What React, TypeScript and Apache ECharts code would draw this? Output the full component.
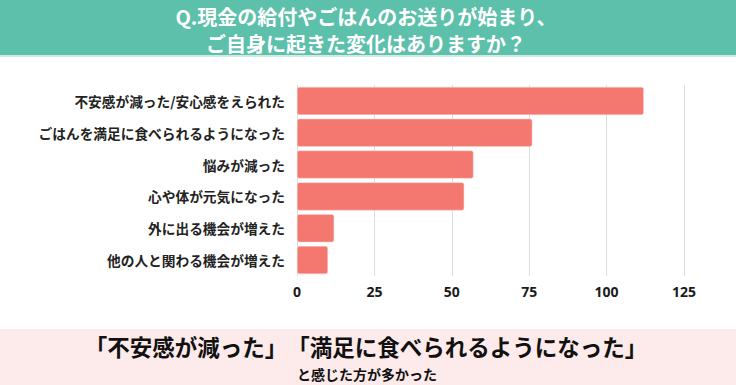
import React, { useEffect, useRef } from "react";
import * as echarts from "echarts";

const categories = [
  "不安感が減った/安心感をえられた",
  "ごはんを満足に食べられるようになった",
  "悩みが減った",
  "心や体が元気になった",
  "外に出る機会が増えた",
  "他の人と関わる機会が増えた",
];
const values = [112, 76, 57, 54, 12, 10];
const titleLines = ["Q.現金の給付やごはんのお送りが始まり、", "ご自身に起きた変化はありますか？"];
const footerMain = "「不安感が減った」　「満足に食べられるようになった」";
const footerSub = "と感じた方が多かった";

const JP = "'Noto Sans CJK JP', 'Noto Sans', sans-serif";

export default function App() {
  const ref = useRef<HTMLDivElement>(null);
  useEffect(() => {
    if (!ref.current) return;
    const chart = echarts.init(ref.current, null, { renderer: "svg" });
    chart.setOption({
      animation: false,
      backgroundColor: "#ffffff",
      grid: { left: 297, right: 52, top: 85, bottom: 109, containLabel: false },
      xAxis: {
        type: "value",
        min: 0,
        max: 125,
        interval: 25,
        axisLine: { show: false },
        axisTick: { show: false },
        splitLine: { show: true, lineStyle: { color: "#dddddd", width: 1 } },
        axisLabel: {
          color: "#1a1a1a",
          fontSize: 14,
          fontWeight: "bold",
          fontFamily: "'Open Sans', sans-serif",
          margin: 8,
        },
      },
      yAxis: {
        type: "category",
        data: categories,
        inverse: true,
        axisLine: { show: false },
        axisTick: { show: false },
        splitLine: { show: false },
        axisLabel: {
          color: "#222222",
          fontSize: 13.7,
          fontWeight: "bold",
          fontFamily: JP,
          margin: 12,
        },
      },
      series: [
        {
          type: "bar",
          data: values,
          barCategoryGap: "12%",
          itemStyle: {
            color: "#f47870",
            borderRadius: 2,
            borderColor: "#fbd3cf",
            borderWidth: 0.5,
          },
        },
      ],
      graphic: [
        { type: "rect", left: 0, top: 0, shape: { x: 0, y: 0, width: 736, height: 55 }, style: { fill: "#5cc0aa" }, silent: true },
        { type: "rect", left: 0, top: 55, shape: { x: 0, y: 0, width: 736, height: 2 }, style: { fill: "#cfece4" }, silent: true },
        {
          type: "text",
          x: 366,
          y: 16,
          style: { text: titleLines[0], fill: "#ffffff", font: `bold 20px ${JP}`, align: "center", verticalAlign: "middle" },
        },
        {
          type: "text",
          x: 366,
          y: 43,
          style: { text: titleLines[1], fill: "#ffffff", font: `bold 20px ${JP}`, align: "center", verticalAlign: "middle" },
        },
        { type: "rect", left: 0, top: 329, shape: { x: 0, y: 0, width: 736, height: 56 }, style: { fill: "#fdeaea" }, silent: true },
        {
          type: "text",
          x: 366,
          y: 346,
          style: { text: footerMain, fill: "#111111", font: `bold 22.5px ${JP}`, align: "center", verticalAlign: "middle" },
        },
        {
          type: "text",
          x: 367,
          y: 374,
          style: { text: footerSub, fill: "#111111", font: `bold 14px ${JP}`, align: "center", verticalAlign: "middle" },
        },
      ],
    });
    return () => chart.dispose();
  }, []);
  return (
    <div
      ref={ref}
      style={{ position: "fixed", left: 0, top: 0, width: 736, height: 385 }}
    />
  );
}
